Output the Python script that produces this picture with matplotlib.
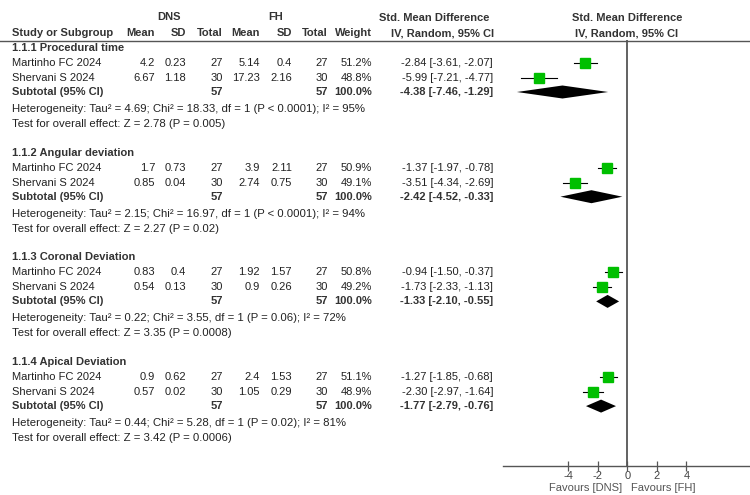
import matplotlib
matplotlib.use('Agg')
import matplotlib.pyplot as plt

plt.rcParams['font.family'] = ['Liberation Sans', 'DejaVu Sans']

# data
groups = ['1.1.1 Procedural time', '1.1.2 Angular deviation',
          '1.1.3 Coronal Deviation', '1.1.4 Apical Deviation']
studies = ['Martinho FC 2024', 'Shervani S 2024']
n_dns = [27, 30]
n_fh = [27, 30]
dns_mean = [[4.2, 6.67], [1.7, 0.85], [0.83, 0.54], [0.9, 0.57]]
dns_sd = [[0.23, 1.18], [0.73, 0.04], [0.4, 0.13], [0.62, 0.02]]
fh_mean = [[5.14, 17.23], [3.9, 2.74], [1.92, 0.9], [2.4, 1.05]]
fh_sd = [[0.4, 2.16], [2.11, 0.75], [1.57, 0.26], [1.53, 0.29]]
weights = [[51.2, 48.8], [50.9, 49.1], [50.8, 49.2], [51.1, 48.9]]
smd = [[-2.84, -5.99], [-1.37, -3.51], [-0.94, -1.73], [-1.27, -2.30]]
smd_lo = [[-3.61, -7.21], [-1.97, -4.34], [-1.50, -2.33], [-1.85, -2.97]]
smd_hi = [[-2.07, -4.77], [-0.78, -2.69], [-0.37, -1.13], [-0.68, -1.64]]
sub_smd = [-4.38, -2.42, -1.33, -1.77]
sub_lo = [-7.46, -4.52, -2.10, -2.79]
sub_hi = [-1.29, -0.33, -0.55, -0.76]
tau2 = [4.69, 2.15, 0.22, 0.44]
chi2 = [18.33, 16.97, 3.55, 5.28]
p_het = ['< 0.0001', '< 0.0001', '= 0.06', '= 0.02']
i2 = [95, 94, 72, 81]
z_val = [2.78, 2.27, 3.35, 3.42]
p_z = ['0.005', '0.02', '0.0008', '0.0006']
ticks = [-4, -2, 0, 2, 4]

fig = plt.figure(figsize=(7.5, 4.95), dpi=100)
ax = fig.add_axes([0, 0, 1, 1])
ax.set_xlim(0, 750)
ax.set_ylim(495, 0)
ax.axis('off')

# forest panel
fx = fig.add_axes([503 / 750, (495 - 466) / 495, 247 / 750, (466 - 40) / 495])
fx.set_xlim(-8.4, 8.3)
fx.set_ylim(466, 40)
fx.patch.set_alpha(0)
for s in ['top', 'left', 'right']:
    fx.spines[s].set_visible(False)
fx.spines['bottom'].set_color('#555555')
fx.spines['bottom'].set_linewidth(1.0)
fx.set_yticks([])
fx.set_xticks(ticks)
fx.set_xticklabels([str(t) for t in ticks])
fx.tick_params(axis='x', direction='inout', length=7, width=0.9, color='#555555',
               labelsize=8, labelcolor='#444444', pad=0)
fx.axvline(0, color='#555555', lw=1.3)

fs = 8
txt = '#222222'
hdr = '#333333'

def t(x, y, s, ha='left', bold=False, color=txt, size=fs):
    ax.text(x, y, s, ha=ha, va='center', fontsize=size, color=color,
            fontweight='bold' if bold else 'normal')

# column headers
t(169, 17, 'DNS', ha='center', bold=True, color=hdr)
t(276, 17, 'FH', ha='center', bold=True, color=hdr)
t(12, 33, 'Study or Subgroup', bold=True, color=hdr)
for x, s in [(155, 'Mean'), (186, 'SD'), (223, 'Total'),
             (260, 'Mean'), (292, 'SD'), (328, 'Total'), (372, 'Weight')]:
    t(x, 33, s, ha='right', bold=True, color=hdr)
t(434, 18, 'Std. Mean Difference', ha='center', bold=True, color=hdr)
t(494, 33, 'IV, Random, 95% CI', ha='right', bold=True, color=hdr)
t(627, 18, 'Std. Mean Difference', ha='center', bold=True, color=hdr)
t(627, 33, 'IV, Random, 95% CI', ha='center', bold=True, color=hdr)
ax.plot([0, 750], [40.5, 40.5], color='#555555', lw=1.0)

green = '#00bf00'
for g, name in enumerate(groups):
    y0 = 48 + 104.7 * g
    t(12, y0, name, bold=True, color=hdr)
    for k, st in enumerate(studies):
        y = y0 + 15 * (k + 1)
        t(12, y, st)
        t(155, y, f'{dns_mean[g][k]:g}', ha='right')
        t(186, y, f'{dns_sd[g][k]:g}', ha='right')
        t(223, y, str(n_dns[k]), ha='right')
        t(260, y, f'{fh_mean[g][k]:g}', ha='right')
        t(292, y, f'{fh_sd[g][k]:g}', ha='right')
        t(328, y, str(n_fh[k]), ha='right')
        t(372, y, f'{weights[g][k]:.1f}%', ha='right')
        t(493, y, f'{smd[g][k]:.2f} [{smd_lo[g][k]:.2f}, {smd_hi[g][k]:.2f}]', ha='right')
        fx.plot([smd_lo[g][k], smd_hi[g][k]], [y, y], color='black', lw=0.8)
        fx.plot(smd[g][k], y, marker='s', ms=7, color=green, mec=green)
    ys = y0 + 44
    t(12, ys, 'Subtotal (95% CI)', bold=True, color=hdr)
    t(223, ys, str(sum(n_dns)), ha='right', bold=True, color=hdr)
    t(328, ys, str(sum(n_fh)), ha='right', bold=True, color=hdr)
    t(372, ys, '100.0%', ha='right', bold=True, color=hdr)
    t(493, ys, f'{sub_smd[g]:.2f} [{sub_lo[g]:.2f}, {sub_hi[g]:.2f}]', ha='right', bold=True, color=hdr)
    fx.fill([sub_lo[g], sub_smd[g], sub_hi[g], sub_smd[g]],
            [ys, ys - 6.5, ys, ys + 6.5], color='black', lw=0)
    t(12, y0 + 61, f'Heterogeneity: Tau\u00b2 = {tau2[g]:.2f}; Chi\u00b2 = {chi2[g]:.2f}, '
                   f'df = 1 (P {p_het[g]}); I\u00b2 = {i2[g]}%', size=8.2)
    t(12, y0 + 76, f'Test for overall effect: Z = {z_val[g]:.2f} (P = {p_z[g]})', size=8.2)

t(622, 488, 'Favours [DNS]', ha='right', color='#555555')
t(631, 488, 'Favours [FH]', color='#555555')

fig.savefig('out.png', dpi=100)
